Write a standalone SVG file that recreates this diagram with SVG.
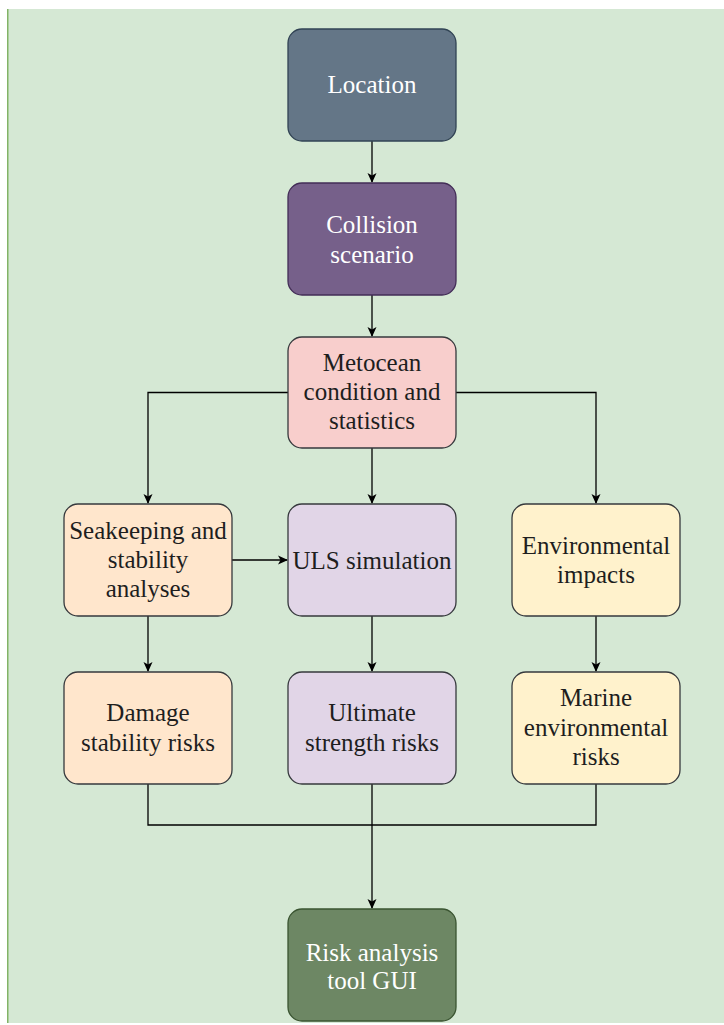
<svg xmlns="http://www.w3.org/2000/svg" width="724" height="1025" viewBox="0 0 724 1025">
  <style>
    .node rect { stroke-width: 1.3; }
    .lbl { font-size: 25px; text-anchor: middle; fill: #1e1e1e; }
    .lbl.light { fill: #ffffff; }
    .edge { fill: none; stroke: #000000; stroke-width: 1.3; }
  </style>
  <defs>
    <marker id="arrow" viewBox="0 0 10 10" refX="9" refY="5" markerWidth="10" markerHeight="10" markerUnits="userSpaceOnUse" orient="auto">
      <path d="M0,0.5 L10,5 L0,9.5 L2.5,5 Z" fill="#000000"/>
    </marker>
  </defs>

  <!-- canvas -->
  <rect x="0" y="0" width="724" height="1025" fill="#ffffff"/>
  <rect x="7" y="9" width="717" height="1014" fill="#d5e8d4"/>
  <line x1="7.75" y1="9" x2="7.75" y2="1023" stroke="#82b366" stroke-width="1.5"/>

  <!-- connectors -->
  <g id="connectors">
    <path class="edge" d="M372,141 V182" marker-end="url(#arrow)"/>
    <path class="edge" d="M372,295 V336" marker-end="url(#arrow)"/>
    <path class="edge" d="M288,392.5 H148 V503" marker-end="url(#arrow)"/>
    <path class="edge" d="M372,448 V503" marker-end="url(#arrow)"/>
    <path class="edge" d="M456,392.5 H596 V503" marker-end="url(#arrow)"/>
    <path class="edge" d="M232,560 H287" marker-end="url(#arrow)"/>
    <path class="edge" d="M148,616 V671" marker-end="url(#arrow)"/>
    <path class="edge" d="M372,616 V671" marker-end="url(#arrow)"/>
    <path class="edge" d="M596,616 V671" marker-end="url(#arrow)"/>
    <path class="edge" d="M148,784 V825 H596 V784"/>
    <path class="edge" d="M372,784 V908" marker-end="url(#arrow)"/>
  </g>

  <!-- nodes -->
  <g id="nodes" font-family="Liberation Serif, DejaVu Serif, serif">
  <g id="location" class="node">
    <rect x="288" y="29" width="168" height="112" rx="14" fill="#647687" stroke="#314354"/>
    <text class="lbl light" x="372" y="93">Location</text>
  </g>
  <g id="collision" class="node">
    <rect x="288" y="183" width="168" height="112" rx="14" fill="#76608a" stroke="#432d57"/>
    <text class="lbl light" x="372" y="233">Collision</text>
    <text class="lbl light" x="372" y="263">scenario</text>
  </g>
  <g id="metocean" class="node">
    <rect x="288" y="337" width="168" height="111" rx="14" fill="#f8cecc" stroke="#36393d"/>
    <text class="lbl" x="372" y="371">Metocean</text>
    <text class="lbl" x="372" y="400">condition and</text>
    <text class="lbl" x="372" y="429">statistics</text>
  </g>
  <g id="seakeeping" class="node">
    <rect x="64" y="504" width="168" height="112" rx="14" fill="#ffe6cc" stroke="#36393d"/>
    <text class="lbl" x="148" y="539">Seakeeping and</text>
    <text class="lbl" x="148" y="568">stability</text>
    <text class="lbl" x="148" y="597">analyses</text>
  </g>
  <g id="uls" class="node">
    <rect x="288" y="504" width="168" height="112" rx="14" fill="#e1d5e7" stroke="#36393d"/>
    <text class="lbl" x="372" y="569">ULS simulation</text>
  </g>
  <g id="environmental" class="node">
    <rect x="512" y="504" width="168" height="112" rx="14" fill="#fff2cc" stroke="#36393d"/>
    <text class="lbl" x="596" y="554">Environmental</text>
    <text class="lbl" x="596" y="583">impacts</text>
  </g>
  <g id="damage" class="node">
    <rect x="64" y="672" width="168" height="112" rx="14" fill="#ffe6cc" stroke="#36393d"/>
    <text class="lbl" x="148" y="721">Damage</text>
    <text class="lbl" x="148" y="751">stability risks</text>
  </g>
  <g id="ultimate" class="node">
    <rect x="288" y="672" width="168" height="112" rx="14" fill="#e1d5e7" stroke="#36393d"/>
    <text class="lbl" x="372" y="721">Ultimate</text>
    <text class="lbl" x="372" y="751">strength risks</text>
  </g>
  <g id="marine" class="node">
    <rect x="512" y="672" width="168" height="112" rx="14" fill="#fff2cc" stroke="#36393d"/>
    <text class="lbl" x="596" y="706">Marine</text>
    <text class="lbl" x="596" y="736">environmental</text>
    <text class="lbl" x="596" y="765">risks</text>
  </g>
  <g id="gui" class="node">
    <rect x="288" y="909" width="168" height="112" rx="14" fill="#6d8764" stroke="#3a5431"/>
    <text class="lbl light" x="372" y="961">Risk analysis</text>
    <text class="lbl light" x="372" y="989">tool GUI</text>
  </g>
  </g>
</svg>
